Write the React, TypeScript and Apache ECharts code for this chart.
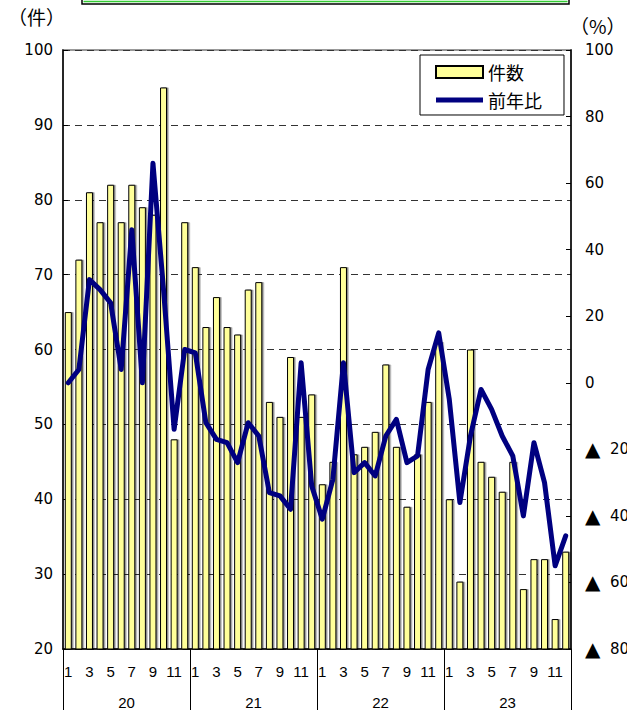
import React, { useEffect, useRef } from "react";
import * as echarts from "echarts";

const years = ["20", "21", "22", "23"];
const months = ["1", "2", "3", "4", "5", "6", "7", "8", "9", "10", "11", "12"];

const counts2020 = [65, 72, 81, 77, 82, 77, 82, 79, 78, 95, 48, 77];
const counts2021 = [71, 63, 67, 63, 62, 68, 69, 53, 51, 59, 51, 54];
const counts2022 = [42, 45, 71, 46, 47, 49, 58, 47, 39, 46, 53, 61];
const counts2023 = [40, 29, 60, 45, 43, 41, 45, 28, 32, 32, 24, 33];

const yoy2020 = [0, 4, 31, 28, 24, 4, 46, 0, 66, 28, -14, 10];
const yoy2021 = [9, -12, -17, -18, -24, -12, -16, -33, -34, -38, 6, -31];
const yoy2022 = [-41, -29, 6, -27, -24, -28, -16, -11, -24, -22, 4, 15];
const yoy2023 = [-5, -36, -16, -2, -8, -16, -22, -40, -18, -30, -55, -46];

const leftTicks = { min: 20, max: 100, interval: 10 };
const rightTicks = { min: -80, max: 100, interval: 20 };

const seriesNames = ["件数", "前年比"];

export default function App() {
  const ref = useRef<HTMLDivElement>(null);

  useEffect(() => {
    document.body.style.margin = "0";
    if (!ref.current) return;
    const chart = echarts.init(ref.current, undefined, { renderer: "svg" });

    const categories: string[] = [];
    years.forEach((y) => months.forEach((m) => categories.push(y + "/" + m)));
    const counts = [...counts2020, ...counts2021, ...counts2022, ...counts2023];
    const yoy = [...yoy2020, ...yoy2021, ...yoy2022, ...yoy2023];

    const numFont = "DejaVu Sans";
    const narrowFont = "'Liberation Sans Narrow', 'Liberation Sans', Arial, sans-serif";
    const cjk = "'Noto Sans CJK JP', sans-serif";

    chart.setOption({
      animation: false,
      backgroundColor: "#ffffff",
      grid: {
        left: 63,
        right: 56,
        top: 50,
        bottom: 61,
        containLabel: false,
        outerBoundsMode: "none",
        show: true,
        borderColor: "#999",
        borderWidth: 2,
        backgroundColor: "transparent",
      },
      legend: {
        orient: "vertical",
        left: 420,
        top: 55,
        padding: [8, 22, 6, 15],
        itemWidth: 47,
        itemHeight: 12,
        itemGap: 10,
        backgroundColor: "#fff",
        borderColor: "#000",
        borderWidth: 1,
        textStyle: { fontFamily: cjk, fontSize: 18, color: "#000" },
        data: [
          { name: seriesNames[0], icon: "rect" },
          {
            name: seriesNames[1],
            icon: "path://M0,0 L47,0 L47,5 L0,5 Z",
            itemStyle: { color: "#000080", borderWidth: 0 },
          },
        ],
      },
      xAxis: [
        {
          type: "category",
          data: categories,
          position: "bottom",
          boundaryGap: true,
          axisLine: { show: true, onZero: false, lineStyle: { color: "#000", width: 1.5 } },
          axisTick: { show: false },
          axisLabel: {
            interval: 0,
            margin: 15,
            fontSize: 15,
            fontFamily: narrowFont,
            color: "#000",
            formatter: (v: string, i: number) => (i % 2 === 0 ? v.split("/")[1] : ""),
          },
          splitLine: { show: false },
        },
        {
          type: "category",
          data: years,
          position: "bottom",
          boundaryGap: true,
          axisLine: { show: false, onZero: false },
          axisTick: { show: true, interval: 0, length: 61, lineStyle: { color: "#000", width: 1 } },
          axisLabel: {
            interval: 0,
            margin: 46,
            fontSize: 15,
            fontFamily: narrowFont,
            color: "#000",
          },
          splitLine: { show: false },
        },
      ],
      yAxis: [
        {
          type: "value",
          min: leftTicks.min,
          max: leftTicks.max,
          interval: leftTicks.interval,
          position: "left",
          axisLine: { show: true, onZero: false, lineStyle: { color: "#000", width: 1.5 } },
          axisTick: { show: true, inside: true, length: 5, lineStyle: { color: "#000" } },
          axisLabel: { margin: 10, fontSize: 15, fontFamily: numFont, color: "#000" },
          splitLine: {
            show: true,
            lineStyle: { color: "#333", width: 1, type: [7, 5] },
          },
        },
        {
          type: "value",
          min: rightTicks.min,
          max: rightTicks.max,
          interval: rightTicks.interval,
          position: "right",
          axisLine: { show: true, onZero: false, lineStyle: { color: "#000", width: 1.5 } },
          axisTick: { show: true, inside: true, length: 5, lineStyle: { color: "#000" } },
          axisLabel: {
            margin: 14,
            fontSize: 15,
            fontFamily: numFont,
            color: "#000",
            align: "left",
            formatter: (v: number) => (v < 0 ? "{t|▲}  " + -v : String(v)),
            rich: {
              t: { fontSize: 20, fontFamily: numFont, color: "#000" },
            },
          },
          splitLine: { show: false },
        },
      ],
      series: [
        {
          name: seriesNames[0],
          type: "bar",
          xAxisIndex: 0,
          yAxisIndex: 0,
          data: counts,
          barWidth: 7,
          itemStyle: {
            color: "#FFFF99",
            borderColor: "#000",
            borderWidth: 1,
            shadowColor: "rgba(0,0,0,0.45)",
            shadowOffsetX: 1.5,
            shadowOffsetY: 0,
            shadowBlur: 0,
          },
          z: 2,
        },
        {
          name: seriesNames[1],
          type: "line",
          xAxisIndex: 0,
          yAxisIndex: 1,
          data: yoy,
          symbol: "none",
          showSymbol: false,
          lineStyle: { color: "#000080", width: 5, join: "round", cap: "round" },
          itemStyle: { color: "#000080" },
          z: 3,
        },
      ],
      graphic: [
        {
          type: "rect",
          shape: { x: 82, y: -20, width: 487, height: 24 },
          style: { fill: "#fff", stroke: "#000", lineWidth: 1.5 },
        },
        {
          type: "line",
          shape: { x1: 83.5, y1: 1.5, x2: 567.5, y2: 1.5 },
          style: { stroke: "#33cc33", lineWidth: 1.5 },
        },
        {
          type: "text",
          left: 8,
          top: 7,
          style: { text: "（件）", fontSize: 19, fontFamily: cjk, fill: "#000" },
        },
        {
          type: "text",
          left: 570,
          top: 16,
          style: { text: "（%）", fontSize: 19, fontFamily: cjk, fill: "#000" },
        },
      ],
    });

    return () => chart.dispose();
  }, []);

  return <div ref={ref} style={{ width: 627, height: 710 }} />;
}
